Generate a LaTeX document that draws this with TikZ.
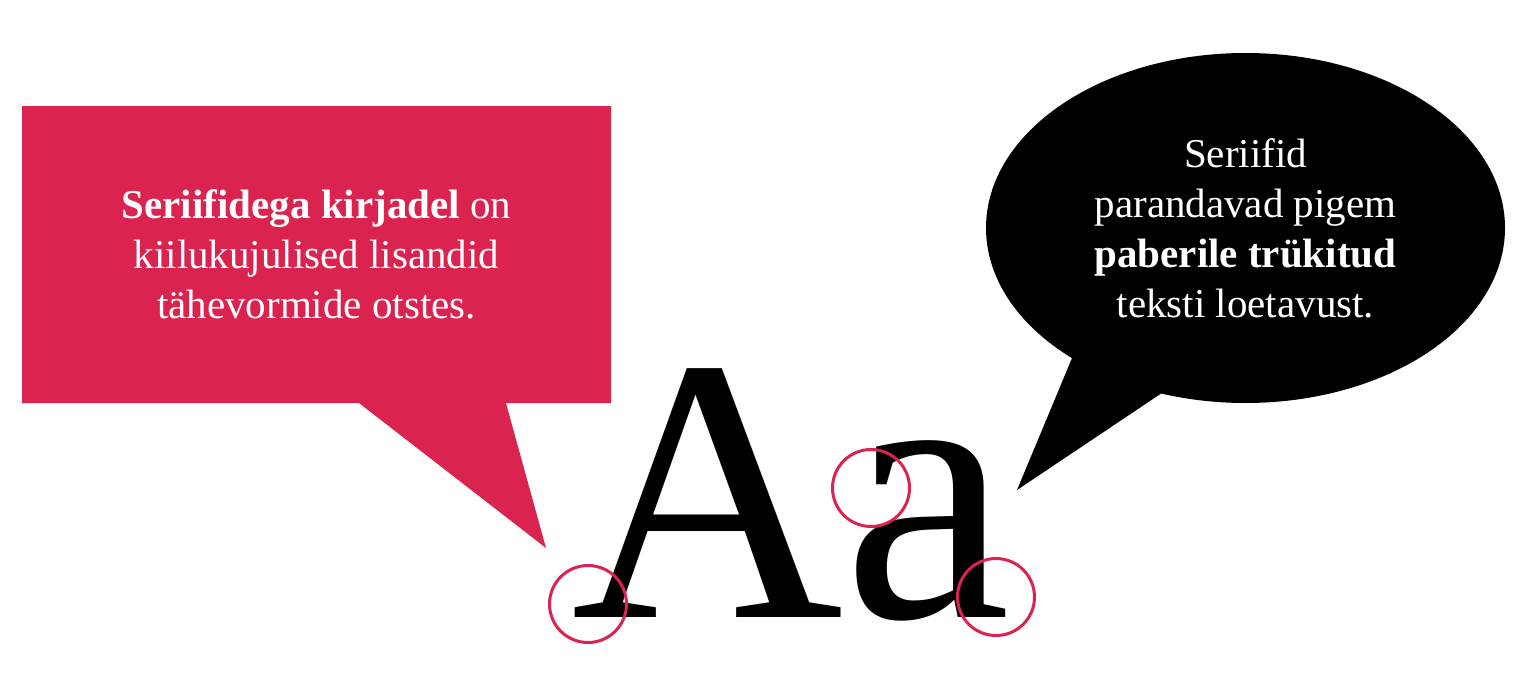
\documentclass[tikz,border=0pt]{standalone}
\usepackage{fontspec}
\setmainfont{Liberation Serif}
\usetikzlibrary{shapes.callouts}
\definecolor{punane}{HTML}{DB234F}
\begin{document}
\begin{tikzpicture}[
    x=1pt, y=-1pt,
    kast/.style={rectangle callout, fill=punane, text=white, inner sep=0pt,
                 minimum width=589pt, minimum height=297pt, callout pointer width=147pt,
                 align=center, font=\fontsize{41}{50}\selectfont},
    mull/.style={ellipse callout, fill=black, text=white, inner sep=0pt,
                 minimum width=519pt, minimum height=350pt, callout pointer arc=23,
                 align=center, font=\fontsize{41}{50}\selectfont},
    rong/.style={circle, draw=punane, line width=3pt, minimum size=77pt, inner sep=0pt}
]
    \useasboundingbox (0,0) rectangle (1539,691);
    \coordinate (kastotsa) at (546,548);
    \coordinate (mullotsa) at (1017,490);

    \node[kast, callout absolute pointer=(kastotsa)] (seletus) at (316.5,254.5)
        {\textbf{Seriifidega kirjadel} on\\kiilukujulised lisandid\\t\"ahevormide otstes.};
    \node[mull, callout absolute pointer=(mullotsa)] (tulemus) at (1245.5,228)
        {Seriifid\\parandavad pigem\\\textbf{paberile tr\"ukitud}\\teksti loetavust.};

    \node[anchor=base west, inner sep=0pt, font=\fontsize{377}{377}\selectfont] (naide) at (571,617) {Aa};

    \node[rong] (serifA) at (588,604) {};
    \node[rong] (serifa1) at (871,488) {};
    \node[rong] (serifa2) at (996,597) {};
\end{tikzpicture}
\end{document}
